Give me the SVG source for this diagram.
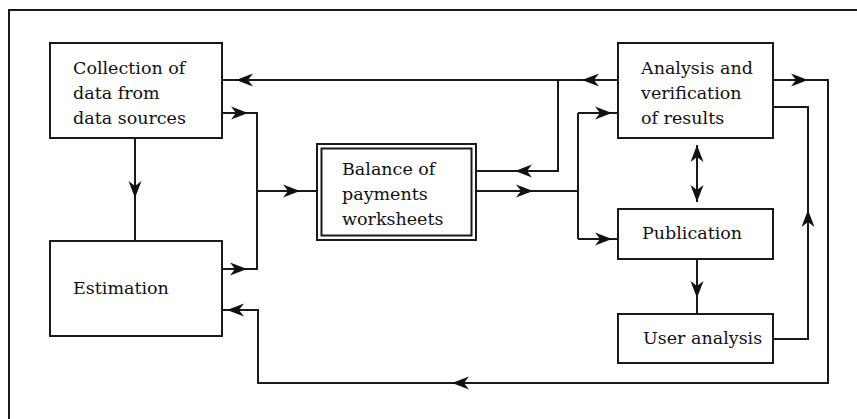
<svg xmlns="http://www.w3.org/2000/svg" xmlns:xlink="http://www.w3.org/1999/xlink" width="857" height="419" viewBox="0 0 857 419">
<style>
.box{fill:#fff;stroke:#1a1a1a;stroke-width:2}
.ln{fill:none;stroke:#1a1a1a;stroke-width:2}
.ah{fill:#111;stroke:none}
text{font-family:"DejaVu Serif","Liberation Serif",serif;font-size:17.5px;fill:#111}
</style>
<defs>
<path id="ah" d="M0,0 L-17,-6.5 L-12,0 L-17,6.5 Z"/>
</defs>
<rect width="857" height="419" fill="#fff"/>
<path class="ln" d="M9,419 V10 H857"/>

<g id="collection">
<rect class="box" x="50" y="43" width="172" height="95"/>
<text x="73" y="74">Collection of</text>
<text x="73" y="99">data from</text>
<text x="73" y="124">data sources</text>
</g>
<g id="estimation">
<rect class="box" x="50" y="241" width="172" height="95"/>
<text x="73" y="294">Estimation</text>
</g>
<g id="balance">
<rect class="box" x="317" y="144" width="159" height="96"/>
<rect class="box" x="321.5" y="148.5" width="150" height="87"/>
<text x="342" y="175">Balance of</text>
<text x="342" y="200">payments</text>
<text x="342" y="225">worksheets</text>
</g>
<g id="analysis">
<rect class="box" x="618" y="43" width="155" height="95"/>
<text x="641" y="74">Analysis and</text>
<text x="641" y="99">verification</text>
<text x="641" y="124">of results</text>
</g>
<g id="publication">
<rect class="box" x="618" y="209" width="155" height="50"/>
<text x="642" y="239">Publication</text>
</g>
<g id="user">
<rect class="box" x="618" y="314" width="155" height="49"/>
<text x="643" y="344">User analysis</text>
</g>

<g id="connectors">
<path class="ln" d="M618,80 H222"/>
<path class="ln" d="M476,171 H558 V80"/>
<path class="ln" d="M476,191 H578 M578,113 V239 M578,113 H618 M578,239 H618"/>
<path class="ln" d="M222,113 H257 V269 H222 M257,191 H317"/>
<path class="ln" d="M135,138 V241"/>
<path class="ln" d="M773,80 H828 V383 H258 V310 H222"/>
<path class="ln" d="M773,339 H808 V107 H773"/>
<path class="ln" d="M697,145 V202"/>
<path class="ln" d="M697,259 V314"/>
<use class="ah" xlink:href="#ah" transform="translate(582,80) rotate(180)"/>
<use class="ah" xlink:href="#ah" transform="translate(236,80) rotate(180)"/>
<use class="ah" xlink:href="#ah" transform="translate(515,171) rotate(180)"/>
<use class="ah" xlink:href="#ah" transform="translate(533,191)"/>
<use class="ah" xlink:href="#ah" transform="translate(612,113)"/>
<use class="ah" xlink:href="#ah" transform="translate(612,239)"/>
<use class="ah" xlink:href="#ah" transform="translate(248,113)"/>
<use class="ah" xlink:href="#ah" transform="translate(247,269)"/>
<use class="ah" xlink:href="#ah" transform="translate(300,191)"/>
<use class="ah" xlink:href="#ah" transform="translate(135,198) rotate(90)"/>
<use class="ah" xlink:href="#ah" transform="translate(808,80)"/>
<use class="ah" xlink:href="#ah" transform="translate(452,383) rotate(180)"/>
<use class="ah" xlink:href="#ah" transform="translate(227,310) rotate(180)"/>
<use class="ah" xlink:href="#ah" transform="translate(808,210) rotate(-90)"/>
<use class="ah" xlink:href="#ah" transform="translate(697,145) rotate(-90)"/>
<use class="ah" xlink:href="#ah" transform="translate(697,202) rotate(90)"/>
<use class="ah" xlink:href="#ah" transform="translate(697,298) rotate(90)"/>
</g>
</svg>
